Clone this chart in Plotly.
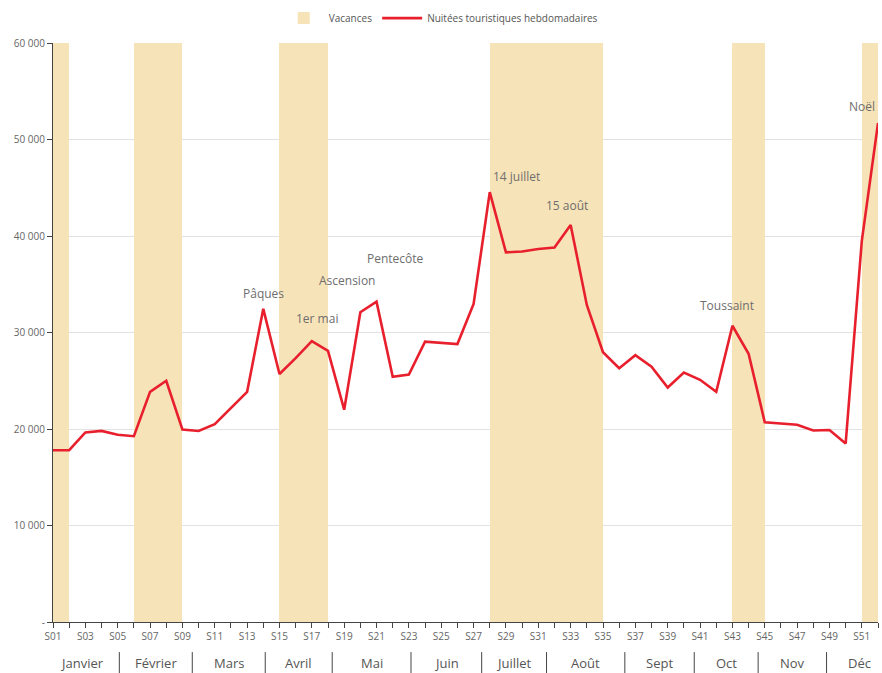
import plotly.graph_objects as go

# ---- data ----
weeks = list(range(1, 53))
nuitees = [17800, 17800, 19650, 19800, 19400, 19250, 23850, 25000, 19950, 19800,
           20500, 22150, 23850, 32450, 25700, 27350, 29100, 28100, 22000, 32100,
           33200, 25400, 25650, 29050, 28950, 28800, 32950, 44550, 38300, 38400,
           38650, 38800, 41150, 32850, 27950, 26300, 27650, 26450, 24300, 25850,
           25100, 23850, 30700, 27800, 20700, 20600, 20450, 19850, 19900, 18500,
           39500, 51700]
vac_start = [1, 6, 15, 28, 43, 51]
vac_end = [2, 9, 18, 35, 45, 52]
vac_top = 60000

tick_weeks = list(range(1, 53, 2))
tick_labels = ["S%02d" % w for w in tick_weeks]
y_ticks = [0, 10000, 20000, 30000, 40000, 50000, 60000]
y_labels = ["-", "10\u00a0000", "20\u00a0000", "30\u00a0000", "40\u00a0000", "50\u00a0000", "60\u00a0000"]

months = ["Janvier", "Février", "Mars", "Avril", "Mai", "Juin", "Juillet", "Août",
          "Sept", "Oct", "Nov", "Déc"]
month_bounds = [0.44, 5.10, 9.61, 14.12, 18.26, 23.13, 27.50, 31.51, 36.35, 40.64,
                44.59, 48.82, 52.94]

events = ["Pâques", "1er mai", "Ascension", "Pentecôte", "14 juillet", "15 août",
          "Toussaint", "Noël"]
event_x = [14.0, 17.33, 19.19, 22.18, 29.66, 32.75, 42.64, 51.04]
event_y = [34050, 31400, 35350, 37700, 46150, 43200, 32750, 53400]

FONT = "Open Sans"

fig = go.Figure()
fig.add_trace(go.Bar(
    x=[(s + e) / 2 for s, e in zip(vac_start, vac_end)],
    y=[vac_top] * len(vac_start),
    width=[e - s for s, e in zip(vac_start, vac_end)],
    marker=dict(color="#F7E3B8", line=dict(width=0)),
    name="Vacances", hoverinfo="skip"))
fig.add_trace(go.Scatter(
    x=weeks, y=nuitees, mode="lines",
    line=dict(color="#E8202D", width=2.6),
    name="Nuitées touristiques hebdomadaires"))

for t, x, y in zip(events, event_x, event_y):
    fig.add_annotation(x=x, y=y, text=t, showarrow=False, xref="x", yref="y",
                       xanchor="center", yanchor="middle",
                       font=dict(family=FONT, size=12, color="#6e6e6e"))

# month dividers and labels below the axis
for b in month_bounds[:-1]:
    fig.add_shape(type="line", xref="x", yref="paper", x0=b, x1=b,
                  y0=-0.052, y1=-0.09, line=dict(color="#444", width=1))
for i, m in enumerate(months):
    fig.add_annotation(x=(month_bounds[i] + month_bounds[i + 1]) / 2, y=-0.071,
                       xref="x", yref="paper", text=m, showarrow=False,
                       xanchor="center", yanchor="middle",
                       font=dict(family=FONT, size=13, color="#555"))

fig.update_layout(
    width=882, height=673,
    margin=dict(l=53, r=4, t=43, b=51, autoexpand=False),
    paper_bgcolor="white", plot_bgcolor="white",
    barmode="overlay", bargap=0,
    font=dict(family=FONT, color="#555"),
    showlegend=True,
    legend=dict(orientation="h", x=0.47, xanchor="center", y=1.043, yanchor="middle",
                font=dict(family=FONT, size=10, color="#555"), itemwidth=40),
    xaxis=dict(range=[1, 52], tickmode="array", tickvals=tick_weeks, ticktext=tick_labels,
               ticks="outside", ticklen=5, tickcolor="#444", showline=True,
               linecolor="#444", linewidth=1, showgrid=False, zeroline=False,
               tickfont=dict(family=FONT, size=10, color="#666"),
               minor=dict(dtick=1, tick0=1, ticks="outside", ticklen=5, tickcolor="#444",
                          showgrid=False)),
    yaxis=dict(range=[0, 60000], tickmode="array", tickvals=y_ticks, ticktext=y_labels,
               ticks="outside", ticklen=5, tickcolor="#444", showline=True,
               linecolor="#444", linewidth=1, showgrid=True, gridcolor="#e2e2e2",
               zeroline=False, tickfont=dict(family=FONT, size=10, color="#666")),
)

fig.write_html("out.html", config={"displayModeBar": False},
               post_script="document.body.style.margin='0';document.body.style.overflow='hidden';")
